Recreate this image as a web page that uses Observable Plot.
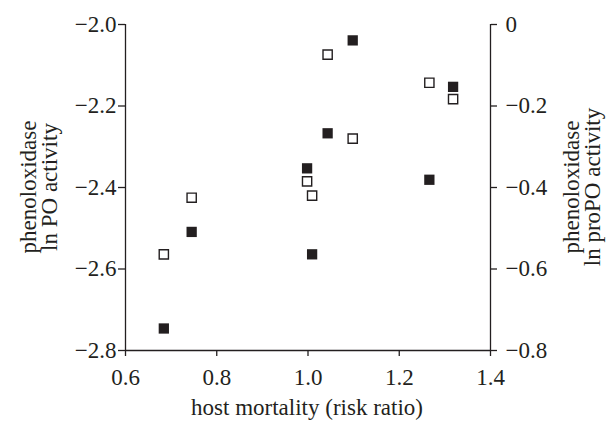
<!DOCTYPE html>
<html><head><meta charset="utf-8">
<script src="https://cdn.jsdelivr.net/npm/d3@7"></script>
<script src="https://cdn.jsdelivr.net/npm/@observablehq/plot@0.6"></script>
<style>body{margin:0;background:#fff}</style>
</head><body><div id="chart"></div>
<script>
const mortality = [0.684, 0.745, 0.998, 1.009, 1.043, 1.098, 1.266, 1.318];
const lnPO = [-2.746, -2.509, -2.353, -2.564, -2.267, -2.039, -2.381, -2.153];
const lnProPO = [-0.564, -0.425, -0.385, -0.420, -0.074, -0.280, -0.143, -0.183];
const xTicks = [0.6, 0.8, 1.0, 1.2, 1.4];
const leftTicks = [-2.0, -2.2, -2.4, -2.6, -2.8];
const rightTicks = [0, -0.2, -0.4, -0.6, -0.8];
const offset = -2.0; // right-axis 0 aligned with left-axis -2.0

const po = mortality.map((x, i) => ({x, y: lnPO[i]}));
const pro = mortality.map((x, i) => ({x, y: lnProPO[i]}));
const fmt = v => v === 0 ? "0" : d3.format(".1f")(v).replace("-", "\u2212");
const font = "Liberation Serif, Times New Roman, serif";
const fs = "23px";
const ink = "#231f20";

const chart = Plot.plot({
  width: 611, height: 425,
  marginLeft: 125, marginRight: 121, marginTop: 24, marginBottom: 75,
  style: {fontFamily: font, fontSize: fs, color: ink, background: "#fff"},
  x: {domain: [xTicks[0], xTicks[xTicks.length - 1]]},
  y: {domain: [leftTicks[leftTicks.length - 1], leftTicks[0]]},
  marks: [
    Plot.ruleY([leftTicks[leftTicks.length - 1]], {stroke: ink, strokeWidth: 1.3}),
    Plot.ruleX([xTicks[0], xTicks[xTicks.length - 1]], {stroke: ink, strokeWidth: 1.3}),
    Plot.axisX({ticks: xTicks, tickSize: 6, tickPadding: 12, fontSize: fs, tickFormat: d3.format(".1f"), label: null, stroke: ink, strokeWidth: 1.3}),
    Plot.axisY({anchor: "left", ticks: leftTicks, tickSize: 7, tickPadding: 2, fontSize: fs, tickFormat: fmt, label: null, stroke: ink, strokeWidth: 1.3}),
    Plot.axisY({anchor: "right", ticks: rightTicks.map(v => v + offset), tickSize: 6, tickPadding: 9, fontSize: fs, tickFormat: v => fmt(Math.round((v - offset) * 10) / 10), label: null, stroke: ink, strokeWidth: 1.3}),
    Plot.dot(pro, {x: "x", y: d => d.y + offset, symbol: "square", r: 5.2, fill: "#fff", stroke: ink, strokeWidth: 1.4}),
    Plot.dot(po, {x: "x", y: "y", symbol: "square", r: 5.8, fill: ink, stroke: "none"})
  ]
});
document.getElementById("chart").appendChild(chart);

const svg = d3.select(chart);
const addText = (x, y, rot, txt) => svg.append("text")
  .attr("transform", `translate(${x},${y}) rotate(${rot})`)
  .attr("text-anchor", "middle").attr("font-family", font).attr("font-size", fs)
  .attr("fill", ink).text(txt);
addText(36, 187, -90, "phenoloxidase");
addText(57, 187, -90, "ln PO activity");
addText(579, 187, -90, "phenoloxidase");
addText(600, 187, -90, "ln proPO activity");
addText(307, 415, 0, "host mortality (risk ratio)");
</script>
</body></html>
